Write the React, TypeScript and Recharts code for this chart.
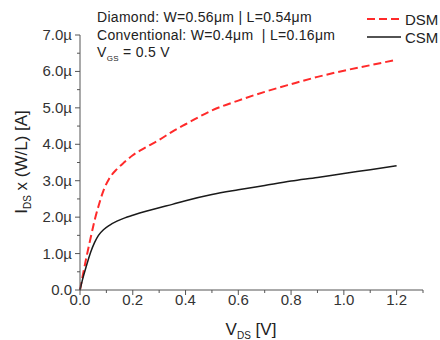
import { LineChart, Line, XAxis, YAxis } from 'recharts';

// V_DS sample points [V]
const VDS = [0, 0.01, 0.025, 0.04, 0.055, 0.07, 0.09, 0.11, 0.14, 0.17, 0.2, 0.25, 0.3, 0.35, 0.4, 0.5, 0.6, 0.7, 0.8, 0.9, 1.0, 1.1, 1.2];
// I_DS x (W/L) in µA
const DSM = [0, 0.38, 0.92, 1.42, 1.9, 2.3, 2.75, 3.05, 3.32, 3.52, 3.7, 3.92, 4.12, 4.35, 4.55, 4.93, 5.2, 5.44, 5.65, 5.85, 6.02, 6.17, 6.32];
const CSM = [0, 0.3, 0.68, 1.03, 1.3, 1.5, 1.66, 1.77, 1.89, 1.98, 2.05, 2.16, 2.26, 2.35, 2.45, 2.62, 2.75, 2.87, 2.99, 3.09, 3.2, 3.3, 3.41];

const X_TICKS = [0, 0.1, 0.2, 0.3, 0.4, 0.5, 0.6, 0.7, 0.8, 0.9, 1.0, 1.1, 1.2, 1.3];
const X_LABELS = [0, 0.2, 0.4, 0.6, 0.8, 1.0, 1.2];
const Y_TICKS = [0, 0.5, 1, 1.5, 2, 2.5, 3, 3.5, 4, 4.5, 5, 5.5, 6, 6.5, 7];
const Y_LABELS = [0, 1, 2, 3, 4, 5, 6, 7];

const data = VDS.map((v, i) => ({ vds: v, dsm: DSM[i], csm: CSM[i] }));

const FONT = '"Liberation Sans", Arial, sans-serif';
const AXIS = '#555';
const TICK_SIZE = 5;
const TICK_MARGIN = 3;

const isLabel = (list: number[], v: number) => list.some((l) => Math.abs(l - v) < 1e-6);

function XTick(props: any) {
  const { x, y, payload } = props;
  const axisY = y - TICK_SIZE - TICK_MARGIN;
  const major = isLabel(X_LABELS, payload.value);
  return (
    <g>
      <line x1={x} x2={x} y1={axisY} y2={axisY + (major ? 5 : 3)} stroke={AXIS} />
      {major && (
        <text x={x} y={axisY + 15} textAnchor="middle" fontSize={15} fill="#333" fontFamily={FONT}>
          {payload.value.toFixed(1)}
        </text>
      )}
    </g>
  );
}

function YTick(props: any) {
  const { x, y, payload } = props;
  const axisX = x + TICK_SIZE + TICK_MARGIN;
  const major = isLabel(Y_LABELS, payload.value);
  return (
    <g>
      <line x1={axisX} x2={axisX - (major ? 5 : 3)} y1={y} y2={y} stroke={AXIS} />
      {major && (
        <text x={axisX - 8} y={y + 5} textAnchor="end" fontSize={15} fill="#333" fontFamily={FONT}>
          {payload.value === 0 ? '0.0' : payload.value.toFixed(1) + 'µ'}
        </text>
      )}
    </g>
  );
}

export default function App() {
  return (
    <div style={{ position: 'absolute', left: 0, top: 0, background: '#fff' }}>
      <LineChart width={440} height={340} data={data} margin={{ top: 35, right: 17, bottom: 0, left: 0 }}>
        <XAxis
          dataKey="vds"
          type="number"
          domain={[0, 1.3]}
          ticks={X_TICKS}
          interval={0}
          tickLine={false}
          tickSize={TICK_SIZE}
          tickMargin={TICK_MARGIN}
          height={50}
          stroke={AXIS}
          tick={<XTick />}
        />
        <YAxis
          type="number"
          domain={[0, 7]}
          ticks={Y_TICKS}
          interval={0}
          tickLine={false}
          tickSize={TICK_SIZE}
          tickMargin={TICK_MARGIN}
          width={80}
          stroke={AXIS}
          tick={<YTick />}
        />
        <Line
          dataKey="dsm"
          name="DSM"
          type="monotone"
          stroke="#ff2a2a"
          strokeWidth={2}
          strokeDasharray="8 4"
          dot={false}
          isAnimationActive={false}
        />
        <Line
          dataKey="csm"
          name="CSM"
          type="monotone"
          stroke="#1a1a1a"
          strokeWidth={1.5}
          dot={false}
          isAnimationActive={false}
        />
        <g fontFamily={FONT} fill="#222">
          <text x={97} y={22} fontSize={14} letterSpacing={0.3}>Diamond: W=0.56μm | L=0.54μm</text>
          <text x={97} y={40} fontSize={14} letterSpacing={0.3}>Conventional: W=0.4μm&#160; | L=0.16μm</text>
          <text x={97} y={57} fontSize={14} letterSpacing={0.3}>
            V<tspan fontSize={8} dy={4}>GS</tspan>
            <tspan dy={-4}> = 0.5 V</tspan>
          </text>
          <line x1={367} x2={401} y1={19} y2={19} stroke="#ff2a2a" strokeWidth={2} strokeDasharray="8 4" />
          <text x={405} y={25} fontSize={15}>DSM</text>
          <line x1={367} x2={401} y1={37} y2={37} stroke="#1a1a1a" strokeWidth={1.5} />
          <text x={405} y={43} fontSize={15}>CSM</text>
          <text x={251} y={335} fontSize={17} textAnchor="middle">
            V<tspan fontSize={10} dy={4}>DS</tspan>
            <tspan dy={-4}> [V]</tspan>
          </text>
          <text transform="translate(27,162) rotate(-90)" fontSize={17} textAnchor="middle">
            I<tspan fontSize={10} dy={4}>DS</tspan>
            <tspan dy={-4}> x (W/L) [A]</tspan>
          </text>
        </g>
      </LineChart>
    </div>
  );
}
